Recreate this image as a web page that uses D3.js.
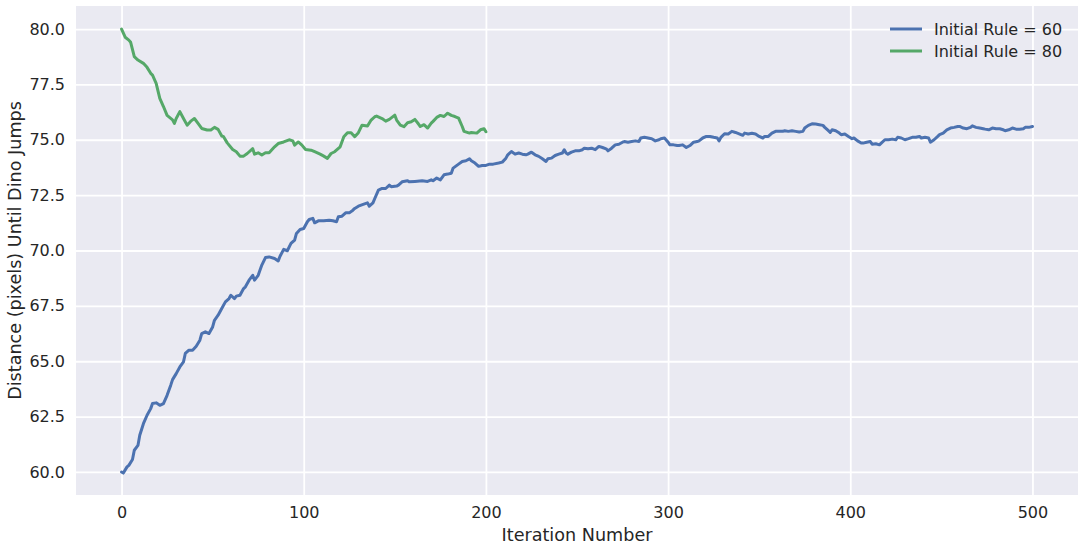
<!DOCTYPE html>
<html>
<head>
<meta charset="utf-8">
<script src="https://cdn.jsdelivr.net/npm/d3@7"></script>
<style>
html,body{margin:0;padding:0;background:#fff;}
svg{display:block;font-family:"DejaVu Sans",sans-serif;}
</style>
</head>
<body>
<svg id="chart" width="1085" height="551"></svg>
<script>
// ---- data ----
const seriesNames = ["Initial Rule = 60", "Initial Rule = 80"];
const seriesColors = ["#4C72B0", "#55A868"];
const xTicks = [0, 100, 200, 300, 400, 500];
const yTicks = [60.0, 62.5, 65.0, 67.5, 70.0, 72.5, 75.0, 77.5, 80.0];

const blueIter = [0,1,3,4,6,7,9,10,12,14,16,17,19,21,23,25,27,28,30,32,34,35,37,39,41,43,44,46,48,50,
51,53,55,57,59,60,62,63,65,67,68,70,72,73,75,77,79,81,84,86,87,89,91,93,95,96,98,100,102,103,
105,106,108,111,114,116,118,119,121,123,125,127,128,130,133,135,136,138,139,141,143,145,147,148,151,152,154,157,158,
161,165,168,170,171,173,175,177,179,181,182,185,187,189,191,192,194,196,198,200,202,204,207,209,211,212,
214,216,218,220,222,223,225,227,229,231,233,234,236,238,240,242,243,244,245,247,249,251,253,254,256,258,
260,262,264,266,267,269,271,273,275,276,278,280,282,284,285,287,289,291,293,295,296,298,300,301,303,305,
306,308,310,312,314,316,317,319,321,323,325,327,328,329,
331,333,335,337,339,341,342,344,346,348,350,352,353,355,357,359,361,363,364,366,368,370,372,374,375,377,
379,381,383,385,386,388,389,390,392,394,395,397,399,401,402,404,406,407,409,411,412,414,416,417,419,421,
423,425,426,428,430,432,434,436,438,439,441,443,444,446,448,449,451,453,455,457,459,460,462,464,466,467,
469,471,473,474,476,478,480,482,484,485,487,489,491,493,495,496,498,500];
const blueValue = [60.0,59.95,60.23,60.3,60.56,60.98,61.2,61.66,62.18,62.56,62.86,63.09,63.12,63.01,63.09,63.46,63.92,64.17,64.44,64.74,64.97,65.35,65.5,65.5,65.68,65.95,66.25,66.33,66.25,66.55,
66.85,67.08,67.38,67.68,67.83,67.98,67.83,67.94,67.98,68.28,68.36,68.66,68.88,68.66,68.88,69.34,69.68,69.71,69.64,69.53,69.74,70.05,69.99,70.32,70.47,70.77,70.95,70.99,71.3,71.4,
71.45,71.25,71.34,71.34,71.37,71.34,71.3,71.52,71.55,71.7,71.7,71.82,71.9,72.0,72.09,72.15,72.0,72.15,72.35,72.73,72.8,72.8,72.95,72.88,72.91,72.95,73.1,73.15,73.1,
73.12,73.15,73.12,73.19,73.15,73.27,73.19,73.42,73.45,73.49,73.72,73.9,74.02,74.05,74.14,74.05,73.95,73.8,73.84,73.84,73.9,73.9,73.95,73.99,74.17,74.32,
74.47,74.35,74.4,74.35,74.32,74.35,74.44,74.32,74.25,74.14,74.02,74.14,74.17,74.29,74.35,74.4,74.55,74.4,74.35,74.44,74.5,74.5,74.55,74.62,74.59,74.62,
74.55,74.7,74.65,74.59,74.5,74.62,74.77,74.8,74.89,74.92,74.89,74.92,74.95,74.92,75.08,75.11,75.08,75.05,74.95,75.0,75.05,75.08,74.89,74.77,74.77,74.74,
74.74,74.77,74.65,74.74,74.89,74.92,74.95,75.08,75.15,75.15,75.11,75.08,74.95,75.11,
75.27,75.26,75.38,75.33,75.27,75.2,75.3,75.26,75.29,75.26,75.15,75.08,75.15,75.15,75.3,75.38,75.38,75.38,75.41,75.38,75.41,75.38,75.35,75.38,75.53,75.65,
75.72,75.71,75.68,75.65,75.56,75.41,75.33,75.45,75.41,75.3,75.23,75.26,75.15,75.05,75.08,74.95,74.85,74.85,74.89,74.92,74.8,74.82,74.77,74.85,75.0,75.0,
75.03,75.0,75.11,75.08,75.0,75.05,75.11,75.11,75.15,75.08,75.11,75.08,74.89,75.0,75.15,75.23,75.3,75.45,75.53,75.56,75.6,75.6,75.53,75.5,75.56,75.63,
75.56,75.53,75.5,75.48,75.45,75.53,75.5,75.5,75.45,75.41,75.45,75.53,75.48,75.48,75.5,75.56,75.56,75.6];

const greenIter = [0,2,4,5,7,9,12,14,16,17,19,21,23,25,28,29,30,32,34,36,38,40,42,44,47,49,51,53,55,56,
58,61,63,65,67,69,72,73,75,77,79,81,84,86,89,92,94,95,97,99,101,104,106,109,111,113,115,117,120,122,
124,126,128,130,132,135,137,139,140,143,145,147,150,151,153,155,157,159,161,163,
164,166,168,170,171,173,175,177,179,181,183,185,187,188,191,192,195,197,199,200];
const greenValue = [80.0,79.63,79.5,79.4,78.75,78.6,78.45,78.27,78.0,77.92,77.55,76.87,76.5,76.1,75.9,75.74,75.96,76.27,75.96,75.66,75.84,75.96,75.74,75.51,75.44,75.44,75.56,75.47,75.17,75.14,
74.86,74.56,74.46,74.26,74.26,74.38,74.6,74.35,74.41,74.31,74.41,74.41,74.68,74.83,74.9,75.0,74.95,74.76,74.9,74.76,74.56,74.53,74.46,74.35,74.26,74.16,74.38,74.46,74.68,75.14,
75.32,75.32,75.14,75.32,75.66,75.62,75.89,76.04,76.07,75.96,75.84,75.92,76.11,75.89,75.66,75.59,75.77,75.81,75.92,75.71,
75.6,75.68,75.53,75.75,75.83,76.01,76.1,76.05,76.2,76.1,76.05,75.98,75.6,75.38,75.3,75.33,75.3,75.45,75.5,75.36];

// ---- chart ----
const W = 1085, H = 551;
const plot = {left: 76, right: 1078, top: 6, bottom: 495};
const svg = d3.select("#chart");
const textColor = "#262626";

const x = d3.scaleLinear().domain([-25, 525]).range([plot.left, plot.right]);
const y = d3.scaleLinear().domain([58.96, 81.04]).range([plot.bottom, plot.top]);

svg.append("rect")
  .attr("x", plot.left).attr("y", plot.top)
  .attr("width", plot.right - plot.left).attr("height", plot.bottom - plot.top)
  .attr("fill", "#EAEAF2");

// grid
const gx = svg.append("g").attr("transform", `translate(0,${plot.bottom})`)
  .call(d3.axisBottom(x).tickValues(xTicks).tickSize(-(plot.bottom - plot.top)).tickFormat(d3.format("d")).tickPadding(12));
gx.select(".domain").remove();
gx.selectAll(".tick line").attr("stroke", "#fff").attr("stroke-width", 1.8);
gx.selectAll(".tick text").attr("fill", textColor).style("font-size", "16px").style("font-family", "DejaVu Sans");

const gy = svg.append("g").attr("transform", `translate(${plot.left},0)`)
  .call(d3.axisLeft(y).tickValues(yTicks).tickSize(-(plot.right - plot.left)).tickFormat(d3.format(".1f")).tickPadding(11));
gy.select(".domain").remove();
gy.selectAll(".tick line").attr("stroke", "#fff").attr("stroke-width", 1.8);
gy.selectAll(".tick text").attr("fill", textColor).style("font-size", "16px").style("font-family", "DejaVu Sans");

// lines
const line = d3.line().x(d => x(d[0])).y(d => y(d[1]));
const series = [
  d3.zip(blueIter, blueValue),
  d3.zip(greenIter, greenValue)
];
series.forEach((s, i) => {
  svg.append("path").datum(s)
    .attr("d", line)
    .attr("fill", "none")
    .attr("stroke", seriesColors[i])
    .attr("stroke-width", 3)
    .attr("stroke-linejoin", "round")
    .attr("stroke-linecap", "round");
});

// axis labels
svg.append("text")
  .attr("x", (plot.left + plot.right) / 2).attr("y", 541)
  .attr("text-anchor", "middle").attr("fill", textColor)
  .style("font-size", "17.6px").text("Iteration Number");
svg.append("text")
  .attr("transform", `translate(21,${(plot.top + plot.bottom) / 2}) rotate(-90)`)
  .attr("text-anchor", "middle").attr("fill", textColor)
  .style("font-size", "17.6px").text("Distance (pixels) Until Dino Jumps");

// legend
const legend = svg.append("g");
seriesNames.forEach((name, i) => {
  const ly = 29 + i * 22;
  legend.append("line")
    .attr("x1", 890).attr("x2", 922).attr("y1", ly).attr("y2", ly)
    .attr("stroke", seriesColors[i]).attr("stroke-width", 3);
  legend.append("text")
    .attr("x", 934).attr("y", ly).attr("dy", "0.36em")
    .attr("fill", textColor).style("font-size", "16px").text(name);
});
</script>
</body>
</html>
